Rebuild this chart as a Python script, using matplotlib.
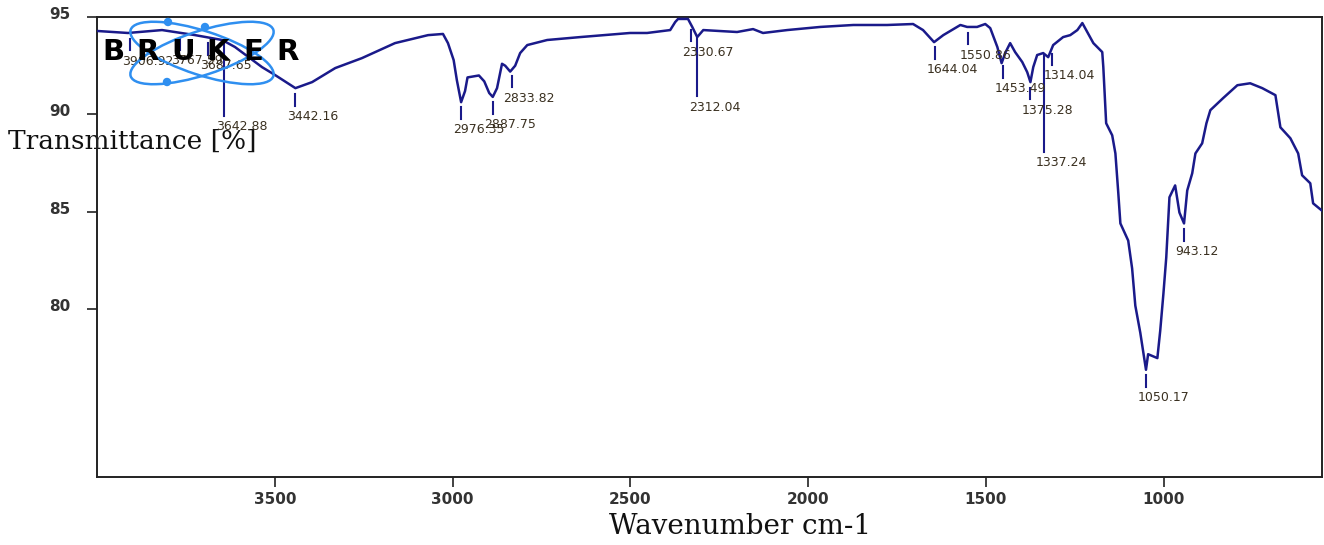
import numpy as np
import matplotlib
matplotlib.use("Agg")
import matplotlib.pyplot as plt
from matplotlib.patches import Ellipse, Circle
import matplotlib.transforms as mtransforms

# ---------------- data ----------------
wavenumber = [3997, 3913, 3817, 3724, 3648, 3612, 3536, 3499, 3442, 3395, 3330, 3255,
              3162, 3069, 3027, 3013, 2997, 2988, 2976, 2965, 2958, 2926, 2911, 2897,
              2887, 2875, 2861, 2852, 2838, 2824, 2810, 2790, 2734, 2641, 2501, 2453,
              2388, 2374, 2366, 2338, 2326, 2312, 2295, 2248, 2200, 2155, 2127, 2059,
              1966, 1873, 1778, 1705, 1677, 1646, 1620, 1572, 1553, 1525, 1502, 1488,
              1468, 1456, 1446, 1432, 1418, 1398, 1384, 1375, 1367, 1356, 1339, 1325,
              1311, 1283, 1263, 1243, 1229, 1198, 1173, 1170, 1162, 1145, 1136, 1128,
              1122, 1100, 1089, 1080, 1066, 1050, 1044, 1018, 1010, 1001, 993, 984,
              968, 956, 943, 934, 920, 911, 892, 880, 869, 833, 793, 757, 723, 686,
              672, 644, 622, 611, 588, 580, 556]
transmittance = [94.28, 94.18, 94.33, 94.07, 93.82, 93.46, 92.43, 92.02, 91.35, 91.66, 92.38, 92.89,
                 93.66, 94.07, 94.13, 93.66, 92.79, 91.76, 90.63, 91.20, 91.90, 92.00, 91.70, 91.10,
                 90.90, 91.35, 92.60, 92.50, 92.20, 92.50, 93.15, 93.56, 93.82, 93.97, 94.18, 94.18,
                 94.33, 94.74, 94.90, 94.90, 94.49, 93.97, 94.33, 94.28, 94.23, 94.38, 94.18, 94.33,
                 94.49, 94.59, 94.59, 94.64, 94.33, 93.71, 94.07, 94.59, 94.49, 94.49, 94.64, 94.43,
                 93.46, 92.63, 93.15, 93.66, 93.20, 92.69, 92.17, 91.66, 92.43, 93.05, 93.15, 92.94,
                 93.56, 93.97, 94.07, 94.33, 94.69, 93.66, 93.20, 92.43, 89.55, 88.93, 88.00, 86.00,
                 84.41, 83.53, 82.10, 80.19, 78.80, 76.90, 77.70, 77.50, 78.90, 80.80, 82.66, 85.75,
                 86.36, 84.97, 84.41, 86.10, 86.98, 88.00, 88.52, 89.55, 90.22, 90.84, 91.50, 91.60,
                 91.35, 90.99, 89.34, 88.78, 88.00, 86.88, 86.47, 85.44, 85.08]

peak_wn = [3906.92, 3767.59, 3687.65, 3642.88, 3442.16, 2976.35, 2887.75, 2833.82,
           2330.67, 2312.04, 1644.04, 1550.86, 1453.49, 1375.28, 1337.24, 1314.04,
           1050.17, 943.12]
peak_labels = ["3906.92", "3767.59", "3687.65", "3642.88", "3442.16", "2976.35", "2887.75",
               "2833.82", "2330.67", "2312.04", "1644.04", "1550.86", "1453.49", "1375.28",
               "1337.24", "1314.04", "1050.17", "943.12"]
long_marker = {"3642.88": 3.8, "2312.04": 3.0, "1337.24": 5.0}

x_ticks = [3500, 3000, 2500, 2000, 1500, 1000]
y_ticks = [80, 85, 90, 95]

# ---------------- figure ----------------
W, H = 1324, 545
fig = plt.figure(figsize=(W / 100, H / 100), dpi=100)
ax = fig.add_axes([97 / W, 1 - 477 / H, (1322 - 97) / W, (477 - 17) / H])

line_color = "#1a1a8a"
ax.plot(wavenumber, transmittance, color=line_color, lw=1.8, zorder=3)

ax.set_xlim(4000, 555)
ax.set_ylim(71.4, 95)

# peak markers and labels
wn_arr = np.array(wavenumber[::-1], dtype=float)
tr_arr = np.array(transmittance[::-1], dtype=float)
label_color = "#3a3020"
for wn, lab in zip(peak_wn, peak_labels):
    yc = float(np.interp(wn, wn_arr, tr_arr))
    if lab in long_marker:
        top = yc - 0.05
        bot = top - long_marker[lab]
    else:
        top = yc - 0.3
        bot = top - 0.6
    ax.plot([wn, wn], [top, bot], color=line_color, lw=1.5, zorder=3)
    ax.annotate(lab, xy=(wn, bot), xytext=(-6, -3), textcoords="offset points",
                ha="left", va="top", fontsize=9, color=label_color,
                family="DejaVu Sans", zorder=4)

# axes styling
for s in ax.spines.values():
    s.set_linewidth(1.4)
    s.set_color("#222222")
ax.set_xticks(x_ticks)
ax.set_yticks(y_ticks)
ax.set_xticklabels([str(t) for t in x_ticks])
ax.set_yticklabels([str(t) for t in y_ticks])
ax.tick_params(axis="both", direction="out", length=7, width=1.2, color="#222222",
               labelsize=11, labelcolor="#333333")
for t in ax.get_xticklabels() + ax.get_yticklabels():
    t.set_fontfamily("DejaVu Sans")
    t.set_fontweight("bold")
ax.tick_params(axis="x", pad=4)
ax.tick_params(axis="y", pad=12)
off = mtransforms.ScaledTranslation(0, 4 / 100, fig.dpi_scale_trans)
for t in ax.get_yticklabels():
    t.set_transform(t.get_transform() + off)

ax.set_xlabel("Wavenumber cm-1", family="DejaVu Serif", fontsize=20, color="#111111")
ax.xaxis.set_label_coords((740 - 97) / 1225, (477 - 527) / 460)
ax.xaxis.label.set_va("center")
ax.set_ylabel("Transmittance [%]", family="DejaVu Serif", fontsize=19,
              rotation=0, ha="left", va="center", color="#111111")
ax.yaxis.set_label_coords((8 - 97) / 1225, (477 - 141) / 460)

# BRUKER logo (pixel coords -> inches)
tr = fig.dpi_scale_trans
def P(x, y):
    return (x / 100, (H - y) / 100)
logo_c = "#2f8ff0"
for ang in (18, -18):
    e = Ellipse(P(202, 53), 150 / 100, 44 / 100, angle=ang, transform=tr,
                fill=False, edgecolor=logo_c, lw=1.8, zorder=5)
    fig.add_artist(e)
for (cx, cy) in [(168, 22), (167, 82), (205, 27)]:
    fig.add_artist(Circle(P(cx, cy), 3.5 / 100, transform=tr, color=logo_c, zorder=5))
for i, ch in enumerate("BRUKER"):
    fig.text(*P(113 + i * 35, 52), ch, transform=tr, ha="center", va="center",
             fontsize=21, fontweight="bold", family="DejaVu Sans", color="black", zorder=6)

fig.savefig("out.png", dpi=100)
